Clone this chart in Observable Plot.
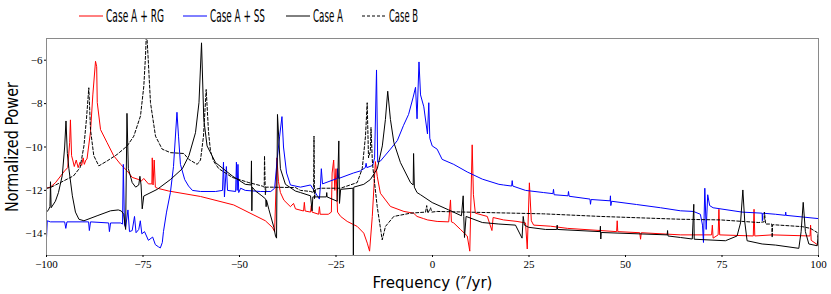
<!DOCTYPE html>
<html>
<head>
<meta charset="utf-8">
<script src="https://cdn.jsdelivr.net/npm/d3@7"></script>
<script src="https://cdn.jsdelivr.net/npm/@observablehq/plot@0.6"></script>
<style>
  html, body { margin: 0; padding: 0; background: #fff; }
  #legend { width: 831px; height: 30px; }
  #chart { width: 831px; }
  #chart svg { overflow: visible; }
</style>
</head>
<body>
<div id="legend"></div>
<div id="chart"></div>
<script>
// ---------------- data: [frequency ("/yr), log normalized power] ----------------
const caseARG = [
  [-100,-11.9],[-99,-11.85],[-97.7,-11.65],[-95.3,-11.1],[-94.5,-10.95],[-94.0,-9.8],[-93.8,-8.75],
  [-93.5,-10.4],[-93.2,-10.6],[-92.8,-10.9],[-92.3,-10.6],[-91.8,-10.95],[-91.3,-10.7],[-90.9,-10.85],
  [-90.5,-10.5],[-90.2,-10.8],[-89.8,-10.6],[-89.5,-10.55],[-88.6,-9.3],[-88.0,-7.6],[-87.3,-6.05],
  [-87.0,-6.3],[-86.85,-7.95],[-86.0,-9.2],[-84.3,-9.8],[-82.6,-10.4],[-80.8,-10.8],[-79.1,-11.1],
  [-77.8,-11.4],[-76.1,-11.5],[-75.6,-11.6],[-74.8,-11.45],[-73.6,-11.7],[-72.7,-11.7],[-72.6,-10.5],
  [-72.4,-11.75],[-72.1,-10.6],[-71.8,-11.85],[-71.3,-11.9],[-68.3,-12.03],[-60.1,-12.28],[-51.5,-12.67],
  [-43.3,-13.4],[-41.5,-13.7],[-40.9,-13.9],[-40.3,-10.5],[-39.9,-11.6],[-39.4,-12.1],[-38.5,-12.45],
  [-36.8,-12.75],[-36.0,-12.6],[-35.5,-12.85],[-33.4,-12.95],[-33.2,-12.55],[-33.0,-12.95],[-31.6,-13.0],
  [-31.4,-12.7],[-31.2,-13.0],[-29.5,-13.1],[-29.3,-12.75],[-29.1,-13.1],[-27.0,-13.1],[-26.2,-13.0],
  [-26.0,-11.2],[-25.6,-10.6],[-25.3,-12.0],[-25.0,-11.0],[-24.6,-13.0],[-23.8,-13.2],[-22.1,-13.43],
  [-19.5,-13.66],[-17.8,-13.97],[-16.9,-14.43],[-16.3,-14.8],[-15.6,-13.2],[-14.8,-10.67],[-14.3,-11.37],
  [-13.5,-12.13],[-10.9,-12.74],[-7.4,-12.97],[-4.9,-13.05],[-4.0,-13.2],[-2.3,-13.3],[-1.3,-13.36],
  [1.2,-13.43],[4.2,-13.45],[4.66,-12.44],[4.9,-13.45],[5.5,-13.5],[7.25,-13.8],[9.0,-14.1],[9.66,-14.8],
  [10.28,-9.9],[10.6,-12.2],[11.1,-13.05],[14.2,-13.2],[15.4,-13.85],[15.7,-13.25],[18.4,-13.36],
  [21.9,-13.43],[24.1,-13.5],[24.55,-14.7],[25.1,-11.65],[25.6,-13.4],[26.2,-13.6],[30.6,-13.65],
  [35,-13.75],[43.5,-13.85],[47.7,-13.9],[47.85,-13.4],[48.0,-13.9],[53.7,-13.95],[53.9,-14.25],
  [54.1,-13.95],[64.3,-14.05],[72.3,-14.05],[72.5,-13.6],[72.7,-14.2],[74.0,-14.05],[74.2,-12.87],
  [74.4,-14.05],[83.1,-14.1],[83.3,-12.87],[83.5,-14.1],[88,-14.05],[97.8,-14.1],[97.95,-13.6],
  [98.1,-14.3],[99.7,-14.5],[100,-14.55]
];

const caseASS = [
  [-100,-14.2],[-99.8,-13.4],[-99,-13.45],[-95.3,-13.45],[-95.0,-13.75],[-94.7,-13.45],[-89.1,-13.45],
  [-88.9,-13.85],[-88.6,-13.45],[-83.9,-13.5],[-83.7,-13.9],[-83.4,-13.5],[-80.8,-13.5],[-80.3,-13.55],
  [-80.1,-10.8],[-79.8,-13.6],[-79.5,-13.7],[-78.9,-12.9],[-78.5,-13.9],[-77.8,-13.85],[-77.2,-13.2],
  [-76.8,-13.95],[-76.1,-13.8],[-75.7,-13.4],[-75.3,-14.0],[-74.6,-13.9],[-73.6,-14.3],[-72.5,-14.15],
  [-71.8,-14.5],[-71.0,-14.6],[-70.5,-14.65],[-70.0,-14.4],[-69.7,-13.9],[-68.9,-13.0],[-67.9,-12.1],
  [-67.1,-10.9],[-66.2,-8.4],[-65.8,-9.5],[-65.3,-10.8],[-64.2,-11.5],[-63.2,-11.8],[-62.2,-12.0],
  [-60.1,-12.05],[-56.2,-12.05],[-54.4,-12.0],[-54.15,-10.7],[-53.9,-12.3],[-53.4,-10.9],[-53.1,-12.0],
  [-51.0,-12.05],[-50.8,-10.7],[-50.6,-12.0],[-50.4,-10.8],[-50.2,-12.1],[-49.7,-11.9],[-48.5,-12.0],
  [-44.6,-12.05],[-41.9,-12.05],[-40.9,-11.9],[-40.2,-10.5],[-39.6,-9.5],[-39.0,-8.6],[-38.6,-10.0],
  [-37.8,-11.2],[-36.8,-11.75],[-34.2,-11.85],[-31.6,-11.75],[-29.3,-12.4],[-29.0,-11.7],[-28.8,-11.0],
  [-28.5,-11.7],[-24.7,-11.45],[-24.6,-11.0],[-24.3,-11.45],[-20.5,-11.2],[-18.65,-11.1],[-17.4,-10.95],
  [-17.2,-10.75],[-17.0,-10.95],[-15.5,-10.85],[-15.0,-10.5],[-14.5,-6.45],[-14.2,-10.7],[-13.5,-10.65],
  [-10.9,-10.1],[-9.1,-9.7],[-7.5,-9.0],[-6.2,-8.5],[-5.0,-7.7],[-4.4,-7.25],[-4.0,-8.7],[-3.5,-6.08],
  [-3.1,-7.6],[-2.25,-8.15],[-1.3,-9.4],[-0.96,-7.96],[-0.7,-9.6],[-0.08,-9.95],[1.2,-10.1],[2.5,-10.57],
  [5.5,-10.8],[9.0,-11.15],[12.9,-11.48],[17.2,-11.72],[18.4,-11.75],[20.5,-11.8],[20.65,-11.55],
  [20.8,-11.8],[24.1,-12.0],[28.8,-12.1],[31.2,-12.15],[31.35,-11.95],[31.5,-12.2],[35.1,-12.25],
  [35.23,-12.05],[35.4,-12.27],[40.8,-12.4],[40.93,-12.64],[41.1,-12.42],[46.0,-12.48],[46.1,-12.25],
  [46.2,-12.7],[46.4,-12.5],[52.85,-12.65],[59.1,-12.8],[64.25,-12.94],[67.6,-12.97],[69.4,-13.1],
  [69.95,-13.6],[70.2,-14.4],[70.55,-11.9],[70.9,-13.8],[71.3,-12.2],[71.8,-12.7],[72.7,-12.8],
  [80.2,-13.0],[85.4,-13.05],[85.45,-13.4],[85.6,-13.05],[88.9,-13.1],[91.45,-13.15],[91.5,-13.0],
  [91.6,-13.15],[100,-13.3]
];

const caseA = [
  [-100,-13.0],[-99.5,-12.9],[-99.1,-12.75],[-98.96,-11.6],[-98.8,-12.8],[-97.7,-12.5],[-96.9,-12.1],
  [-95.9,-11.3],[-95.3,-10.0],[-94.95,-8.8],[-94.6,-10.3],[-94.2,-11.0],[-93.3,-12.25],[-92.5,-13.0],
  [-91.6,-13.33],[-90.3,-13.4],[-86.9,-13.17],[-83.4,-12.94],[-81.4,-12.9],[-80.6,-12.95],[-80.0,-13.1],
  [-79.5,-13.8],[-79.15,-8.45],[-78.8,-11.0],[-77.8,-11.64],[-76.9,-11.85],[-76.1,-11.75],[-75.8,-11.35],
  [-75.5,-11.75],[-75.2,-12.85],[-74.8,-12.26],[-71.3,-11.95],[-67.9,-11.5],[-64.8,-11.0],[-63.1,-10.4],
  [-61.4,-9.34],[-60.5,-7.96],[-59.84,-5.2],[-59.25,-8.73],[-58.4,-9.95],[-56.2,-10.72],[-51.9,-11.33],
  [-48.5,-11.72],[-47.0,-11.75],[-46.9,-10.64],[-46.8,-12.94],[-46.7,-11.85],[-45.85,-12.03],[-44.2,-12.25],
  [-43.2,-12.4],[-43.1,-12.75],[-43.0,-12.45],[-42.4,-12.87],[-41.1,-13.7],[-40.67,-14.1],[-40.4,-14.2],
  [-40.16,-8.5],[-39.4,-11.0],[-38.1,-11.72],[-35.5,-12.03],[-34.2,-12.1],[-31.6,-12.25],[-31.2,-12.94],
  [-31.0,-12.3],[-27.5,-12.3],[-27.4,-12.1],[-27.3,-12.3],[-24.7,-12.5],[-24.27,-9.72],[-24.1,-12.6],
  [-23.8,-11.95],[-20.6,-11.9],[-20.5,-15.5],[-20.4,-11.85],[-17.8,-11.72],[-16.1,-11.5],[-14.3,-11.0],
  [-13.0,-9.95],[-12.2,-8.73],[-11.6,-7.43],[-10.9,-8.73],[-10.0,-9.8],[-8.3,-10.72],[-5.7,-11.64],
  [-5.0,-11.75],[-4.9,-10.3],[-4.7,-11.85],[-4.0,-12.1],[-3.1,-12.2],[-0.08,-12.56],[4.2,-12.9],
  [7.5,-13.17],[7.95,-12.25],[8.1,-13.2],[8.29,-14.17],[8.7,-13.2],[12.9,-13.48],[17.2,-13.55],[21.5,-13.6],
  [23.2,-14.2],[23.5,-13.2],[23.8,-13.6],[24.9,-13.7],[29.3,-13.8],[32.2,-13.8],[32.3,-13.6],[32.4,-13.8],
  [43.4,-13.9],[43.5,-13.65],[43.6,-14.24],[43.7,-13.94],[60.8,-14.05],[60.9,-13.85],[61.0,-14.1],
  [64.25,-14.17],[67.3,-14.24],[67.69,-12.64],[67.8,-14.25],[75.9,-14.32],[78.9,-14.1],[79.8,-13.5],
  [80.4,-11.98],[80.9,-13.45],[81.5,-14.32],[85.4,-14.47],[88.9,-14.52],[94.9,-14.67],[95.5,-13.9],
  [96.04,-12.55],[96.6,-13.9],[97.5,-14.47],[99.66,-14.55],[99.9,-14.1],[100,-14.2]
];

const caseB = [
  [-100,-11.9],[-99,-11.87],[-96.4,-11.64],[-93.0,-11.33],[-91.3,-10.95],[-90.3,-9.95],[-89.64,-8.7],
  [-89.04,-7.27],[-88.6,-9.2],[-87.75,-10.4],[-86.45,-10.87],[-84.27,-10.64],[-81.68,-10.34],[-79.09,-9.95],
  [-77.38,-9.5],[-75.65,-8.57],[-74.79,-7.2],[-74.35,-5.8],[-74.09,-4.6],[-73.7,-5.8],[-73.06,-7.96],
  [-71.76,-9.5],[-70.03,-10.1],[-67.88,-10.26],[-64.43,-10.3],[-63.13,-10.57],[-60.96,-10.8],[-60.1,-10.6],
  [-59.33,-9.5],[-58.63,-7.35],[-58.03,-9.3],[-57.51,-10.2],[-56.66,-10.67],[-55.36,-11.0],[-51.89,-11.4],
  [-47.59,-11.64],[-44.12,-11.8],[-43.6,-11.85],[-43.52,-10.41],[-43.3,-12.2],[-43.1,-11.85],[-42.49,-11.85],
  [-35.49,-11.87],[-34.2,-12.0],[-31.61,-12.05],[-30.8,-12.1],[-30.7,-9.5],[-30.57,-12.4],[-30.31,-11.95],
  [-29.02,-11.9],[-23.83,-11.9],[-19.51,-11.64],[-18.21,-11.0],[-17.36,-9.5],[-16.92,-7.96],[-16.58,-10.5],
  [-16.1,-10.2],[-15.93,-9.1],[-15.6,-10.6],[-15.41,-11.0],[-14.33,-12.74],[-13.03,-14.28],[-12.18,-13.66],
  [-10.03,-13.2],[-5.7,-13.05],[-1.8,-13.0],[-1.5,-12.7],[-1.2,-13.05],[-0.5,-12.8],[-0.2,-13.0],
  [1.22,-12.97],[28.76,-13.08],[43.52,-13.2],[64.25,-13.33],[74.6,-13.36],[84.53,-13.48],[85.9,-13.45],
  [86.0,-13.0],[86.3,-13.55],[87.9,-13.55],[88.0,-14.17],[88.1,-13.58],[95.78,-13.67],[97.9,-13.75],
  [99.66,-13.94],[100,-14.2]
];

const seriesNames = ["Case A + RG", "Case A + SS", "Case A", "Case B"];
const seriesColors = ["#ff0000", "#0000ff", "#000000", "#000000"];
const seriesDash = [null, null, null, "3,2"];
const xTicks = [-100, -75, -50, -25, 0, 25, 50, 75, 100];
const yTicks = [-14, -12, -10, -8, -6];
const xLabel = "Frequency (″/yr)";
const yLabel = "Normalized Power";

// ---------------- legend ----------------
const legendX = [79, 183, 286, 362];
const legendTextLen = [58, 55, 30, 29];
const lg = d3.select("#legend").append("svg").attr("width", 831).attr("height", 30);
seriesNames.forEach((name, i) => {
  lg.append("line")
    .attr("x1", legendX[i]).attr("x2", legendX[i] + 24)
    .attr("y1", 16).attr("y2", 16)
    .attr("stroke", seriesColors[i]).attr("stroke-width", 1)
    .attr("stroke-dasharray", seriesDash[i]);
  lg.append("text")
    .attr("x", legendX[i] + 27).attr("y", 22)
    .attr("font-family", "'DejaVu Sans Condensed', 'DejaVu Sans', sans-serif")
    .attr("font-size", 17)
    .attr("textLength", legendTextLen[i]).attr("lengthAdjust", "spacingAndGlyphs")
    .attr("fill", "#000")
    .text(name);
});

// ---------------- chart ----------------
const fmt = d => d < 0 ? "\u2212" + Math.abs(d) : String(d);
const allSeries = [caseARG, caseASS, caseA, caseB];
const tickFont = "'Liberation Serif', 'DejaVu Serif', serif";
const labelFont = "'DejaVu Sans Condensed', 'DejaVu Sans', sans-serif";

const chart = Plot.plot({
  width: 831,
  height: 264,
  marginTop: 8,
  marginBottom: 39,
  marginLeft: 46,
  marginRight: 13,
  x: {domain: [-100, 100]},
  y: {domain: [-15, -5]},
  marks: [
    ...allSeries.map((s, i) => Plot.line(s, {
      x: d => d[0], y: d => d[1],
      stroke: seriesColors[i], strokeWidth: 1,
      strokeDasharray: seriesDash[i] ?? undefined,
      clip: true
    })),
    Plot.frame({stroke: "#8a8a8a", strokeWidth: 1}),
    Plot.axisX({ticks: xTicks, tickFormat: fmt, tickSize: 2, tickPadding: 3, label: null,
      fontFamily: tickFont, fontSize: 11}),
    Plot.axisY({ticks: yTicks, tickFormat: fmt, tickSize: 2, tickPadding: 2, label: null,
      fontFamily: tickFont, fontSize: 11}),
    Plot.text([xLabel], {text: d => d, frameAnchor: "bottom", dy: 27, lineAnchor: "middle",
      textAnchor: "middle", fontFamily: labelFont, fontSize: 16, fill: "#000"}),
    Plot.text([yLabel], {text: d => d, frameAnchor: "left", dx: -34, rotate: -90, lineAnchor: "middle",
      textAnchor: "middle", fontFamily: labelFont, fontSize: 17, fill: "#000"})
  ]
});
document.getElementById("chart").appendChild(chart);
// match the reference's narrow label lettering
d3.select(chart).selectAll("text").filter(function() { return this.textContent === xLabel; })
  .attr("textLength", 120).attr("lengthAdjust", "spacingAndGlyphs");
d3.select(chart).selectAll("text").filter(function() { return this.textContent === yLabel; })
  .attr("textLength", 130).attr("lengthAdjust", "spacingAndGlyphs");
</script>
</body>
</html>
